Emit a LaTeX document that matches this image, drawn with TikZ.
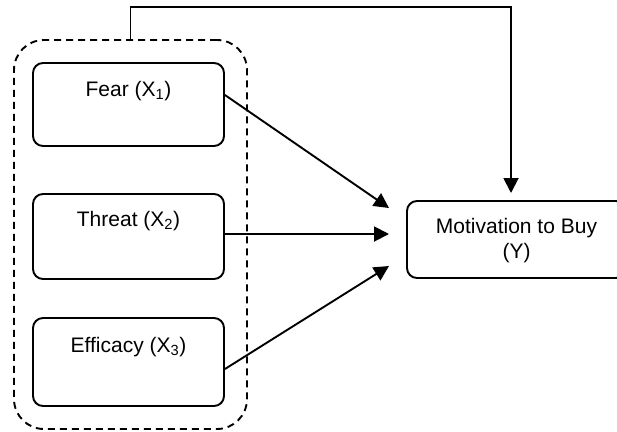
\documentclass[tikz,border=0pt]{standalone}
\usepackage{fontspec}
\setmainfont{Liberation Sans}
\usetikzlibrary{arrows.meta}
\begin{document}
\begin{tikzpicture}[x=1pt,y=-1pt,
  box/.style={draw, line width=1.9pt, rounded corners=10pt, inner sep=0pt, minimum width=191pt},
  groupbox/.style={draw, line width=1.9pt, rounded corners=30pt, dash pattern=on 7pt off 5pt, inner sep=0pt},
  txt/.style={font=\fontsize{21}{25}\selectfont, inner sep=0pt},
  arr/.style={line width=1.9pt, -{Triangle[length=15pt,width=15pt]}}
]
\useasboundingbox (0,0) rectangle (617,431);
\node[groupbox, minimum width=233pt, minimum height=389pt] (group) at (130.5,234.5) {};
\node[box, minimum height=83pt] (fear) at (128.5,104.5) {};
\node[box, minimum height=85pt] (threat) at (128.5,236.5) {};
\node[box, minimum height=88pt] (efficacy) at (128.5,362) {};
\node[box, minimum width=219pt, minimum height=77pt] (mot) at (516.5,239.5) {};
\node[txt, anchor=base] (fearlbl) at ([yshift=-34pt]fear.north) {Fear (X\textsubscript{1})};
\node[txt, anchor=base] (threatlbl) at ([yshift=-33pt]threat.north) {Threat (X\textsubscript{2})};
\node[txt, anchor=base] (efflbl) at ([yshift=-35pt]efficacy.north) {Efficacy (X\textsubscript{3})};
\node[txt, anchor=base] (motlbl1) at ([yshift=-33pt]mot.north) {Motivation to Buy};
\node[txt, anchor=base] (motlbl2) at ([yshift=-58pt]mot.north) {(Y)};
\coordinate (t1) at (389,208);
\coordinate (t2) at (389,234);
\coordinate (t3) at (389,266);
\coordinate (c1) at (130.5,7);
\coordinate (c2) at (511,7);
\coordinate (t4) at (511,193);
\draw[arr] ([yshift=9.5pt]fear.east) -- (t1);
\draw[arr] ([yshift=2.5pt]threat.east) -- (t2);
\draw[arr] ([yshift=-7pt]efficacy.east) -- (t3);
\draw[arr] (group.north) -- (c1) -- (c2) -- (t4);
\end{tikzpicture}
\end{document}
